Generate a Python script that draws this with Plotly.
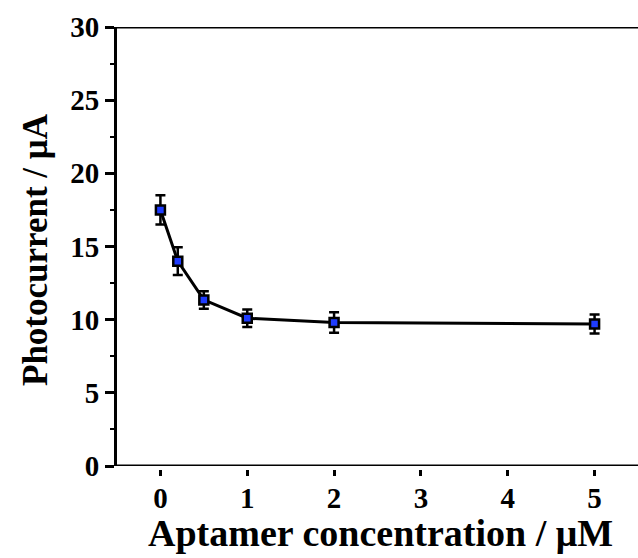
import plotly.graph_objects as go

conc = [0, 0.2, 0.5, 1, 2, 5]
current = [17.5, 14.0, 11.35, 10.1, 9.8, 9.7]
err = [1.0, 0.95, 0.6, 0.6, 0.7, 0.65]
xticks = [0, 1, 2, 3, 4, 5]
yticks = [0, 5, 10, 15, 20, 25, 30]

FONT = "Liberation Serif"
W, H = 638, 558
top_px, axis_px, paper_bottom_px = 27, 466, 469
plot_h = paper_bottom_px - top_px
d0 = (paper_bottom_px - axis_px) / plot_h

fig = go.Figure()
fig.add_trace(go.Scatter(
    x=conc, y=current,
    mode="lines+markers",
    line=dict(color="black", width=3),
    marker=dict(symbol="square", size=9, color="#1f3cff",
                line=dict(color="black", width=2.5)),
    error_y=dict(type="data", array=err, visible=True,
                 color="black", thickness=2.5, width=5),
    showlegend=False,
))

fig.update_layout(
    width=W, height=H,
    margin=dict(l=117, r=0, t=top_px, b=H - paper_bottom_px),
    plot_bgcolor="white", paper_bgcolor="white",
    font=dict(family=FONT, size=29, color="black", weight="bold"),
    xaxis=dict(
        range=[-0.5, 5.5],
        tickvals=xticks,
        ticks="outside", ticklen=6, tickwidth=3, tickcolor="black",
        showline=False, showgrid=False, zeroline=False,
        anchor="free", position=0, automargin=False,
        ticklabelstandoff=-3,
        tickfont=dict(family=FONT, size=29, weight="bold"),
    ),
    yaxis=dict(
        range=[0, 30], domain=[d0, 1],
        tickvals=yticks, automargin=False,
        ticks="outside", ticklen=9, tickwidth=3, tickcolor="black",
        showline=True, linewidth=3, linecolor="black",
        showgrid=False, zeroline=False,
        minor=dict(dtick=2.5, ticks="outside", ticklen=4, tickwidth=2,
                   tickcolor="black", showgrid=False),
        tickfont=dict(family=FONT, size=29, weight="bold"),
    ),
)

fig.add_annotation(text="Aptamer concentration / μM", xref="paper", yref="paper",
                   x=(380 - 117) / (W - 117), y=-(533 - paper_bottom_px) / plot_h,
                   xanchor="center", yanchor="middle", showarrow=False,
                   font=dict(family=FONT, size=38, weight="bold"))
fig.add_annotation(text="Photocurrent / μA", xref="paper", yref="paper",
                   x=-(117 - 35) / (W - 117), y=(paper_bottom_px - 250) / plot_h,
                   xanchor="center", yanchor="middle", showarrow=False, textangle=-90,
                   font=dict(family=FONT, size=35, weight="bold"))

fig.add_shape(type="line", xref="paper", yref="y", x0=0, x1=1, y0=0, y1=0,
              line=dict(color="black", width=3))
fig.add_shape(type="line", xref="paper", yref="y", x0=0, x1=1, y0=30, y1=30,
              line=dict(color="black", width=3))

fig.write_html("out.html", config={"displayModeBar": False},
               post_script="document.body.style.margin='0';document.body.style.padding='0';")
